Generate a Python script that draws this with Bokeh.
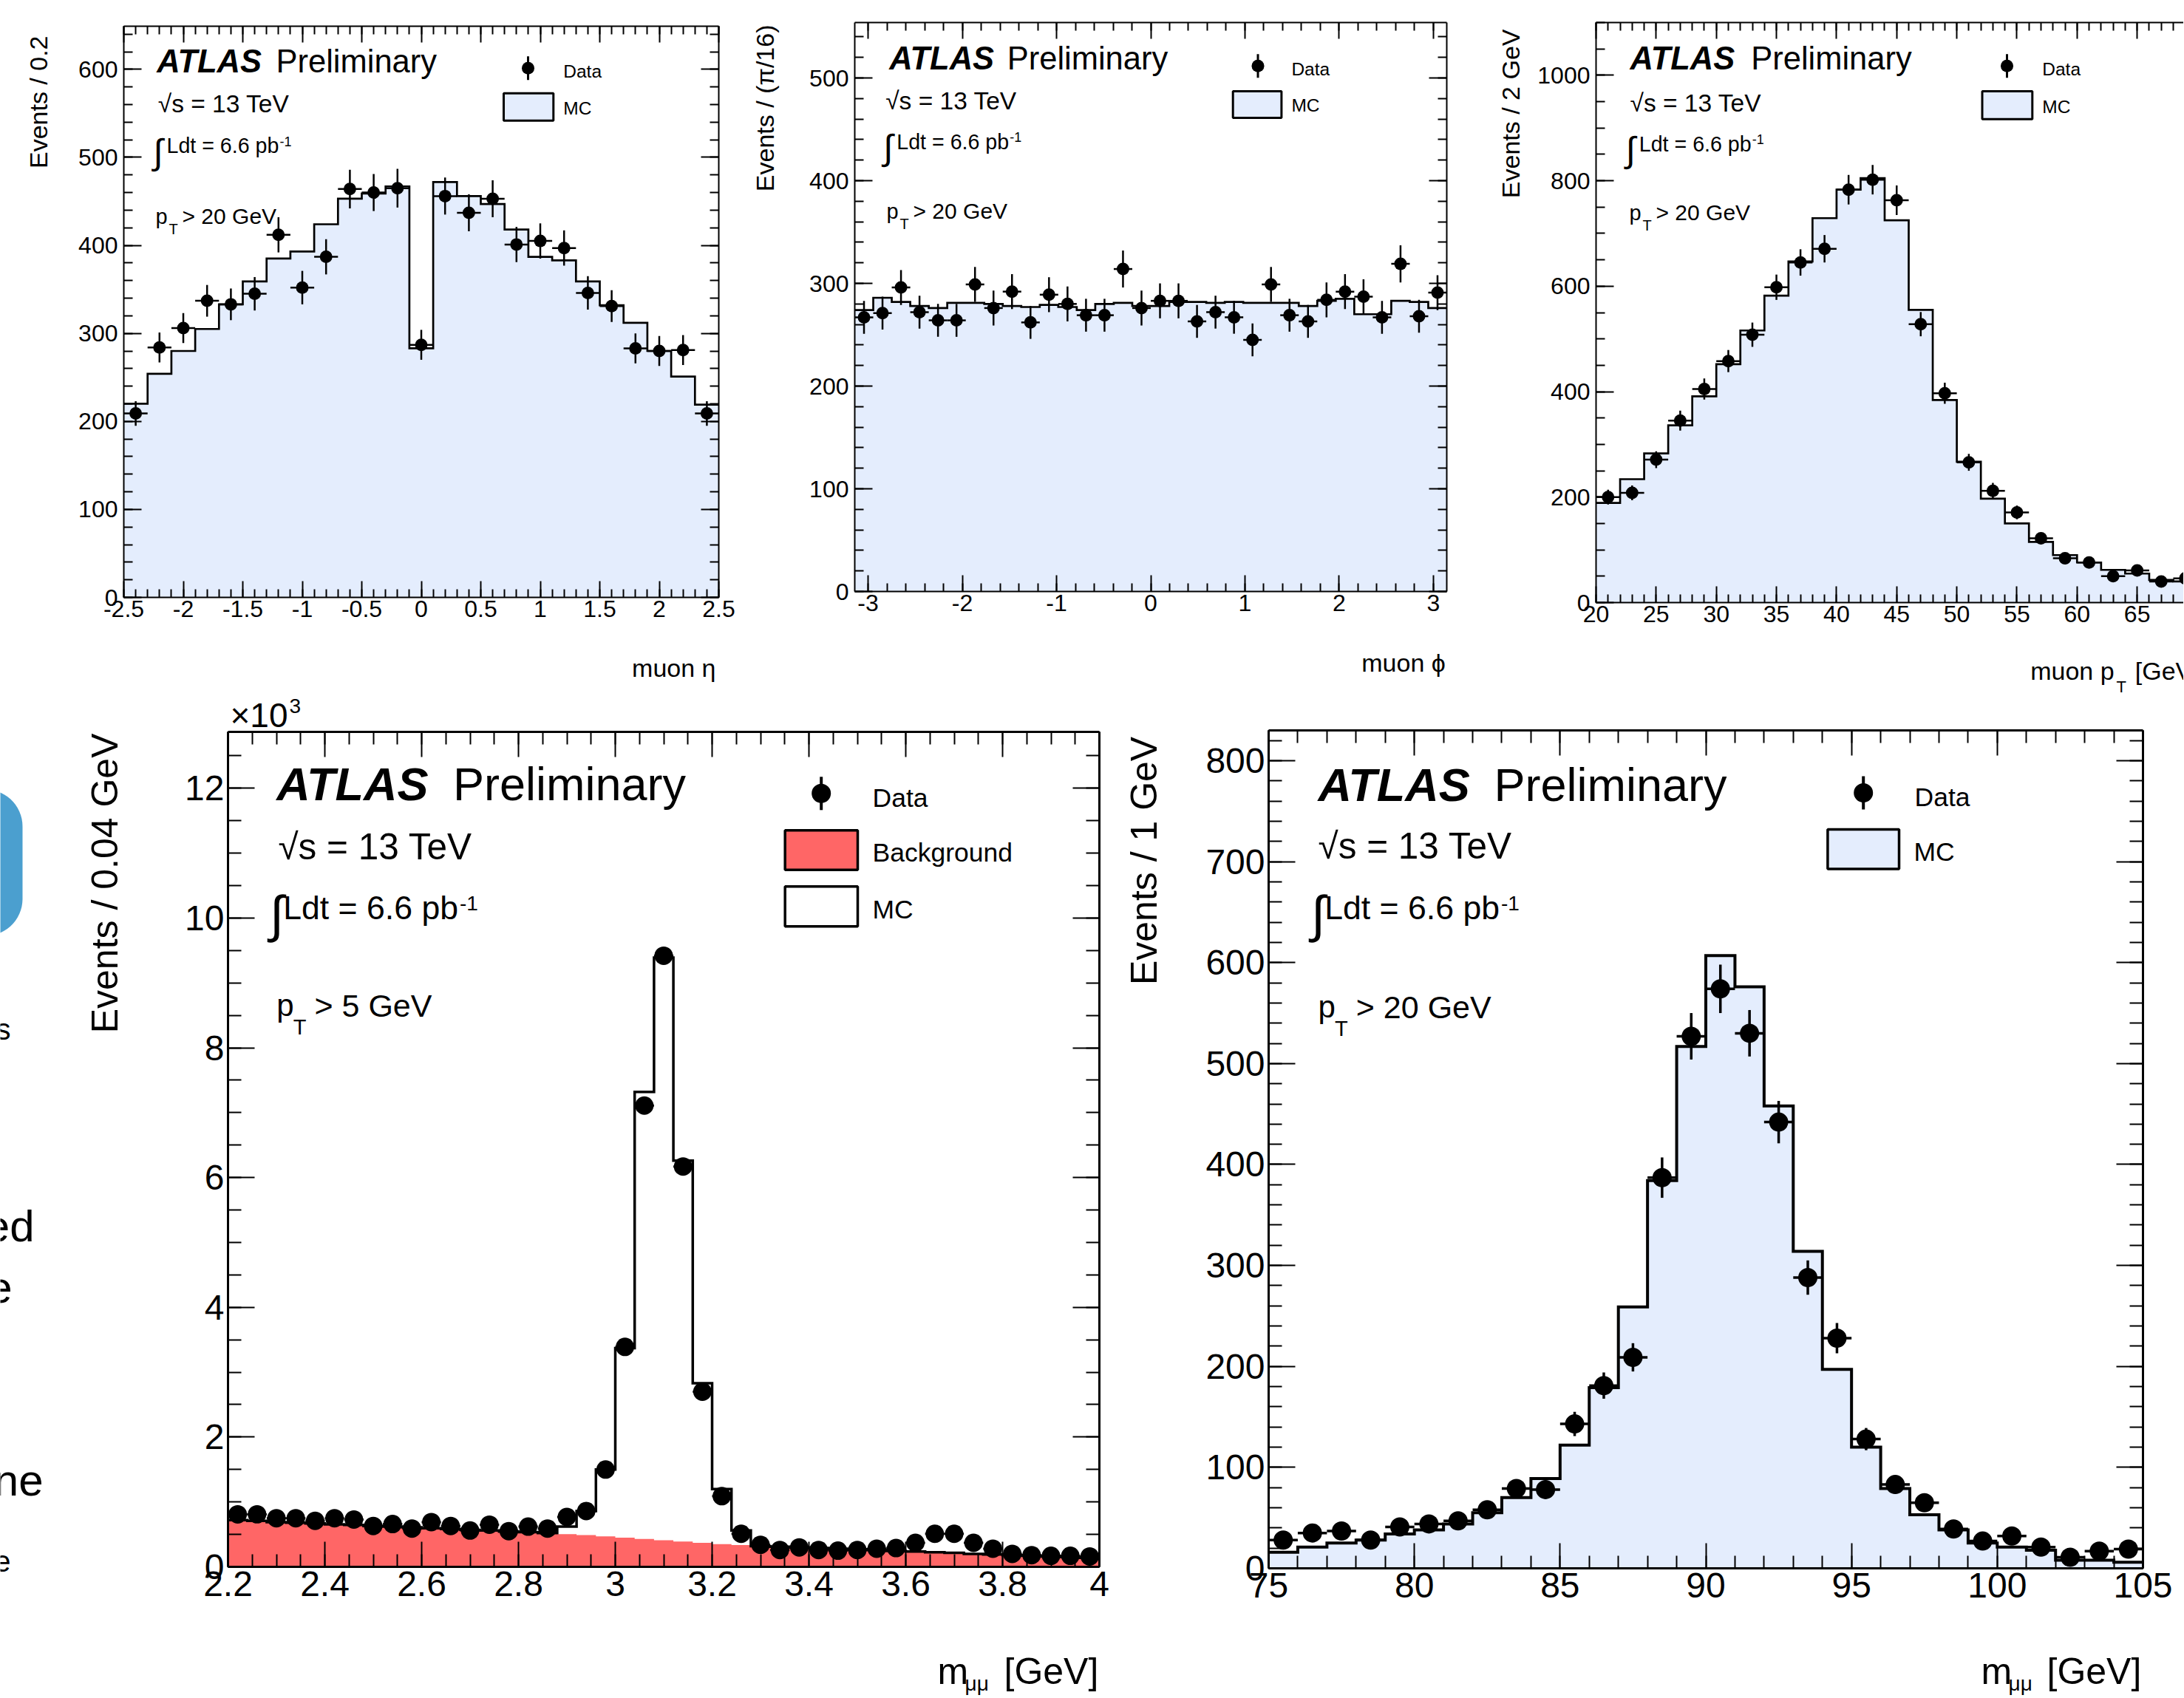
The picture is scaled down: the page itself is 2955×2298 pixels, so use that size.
import numpy as np
from bokeh.plotting import figure
from bokeh.models import Range1d, LinearAxis, FixedTicker, CustomJSTickFormatter, Label
from bokeh.layouts import row, column
from bokeh.embed import file_html
from bokeh.resources import INLINE
from bokeh.core.properties import value

FONT = "Liberation Sans"
MC_FILL = "#e4edfd"
BKG_FILL = "#ff6666"
SLIDE_BLUE = "#4b9fcf"
BASE_SHIFT = 0.34   # measured offset (in em) between the text anchor and the drawn baseline

# ---------------- data ----------------
# muon eta, 25 bins of 0.2
eta_edges = np.linspace(-2.5, 2.5, 26)
eta_data = [209, 284, 306, 337, 333, 345, 412, 352, 387, 464, 460, 465, 287,
            456, 437, 453, 401, 405, 397, 346, 331, 283, 280, 281, 209]
eta_err = [14, 17, 17, 18, 18, 19, 20, 19, 20, 22, 21, 22, 17,
           21, 21, 21, 20, 20, 20, 19, 18, 17, 17, 17, 14]
eta_mc = [220, 254, 280, 305, 333, 359, 385, 393, 424, 453, 459, 467, 283,
          472, 456, 447, 418, 387, 383, 359, 332, 312, 280, 251, 219]

# muon phi, 32 bins of pi/16
phi_edges = np.linspace(-np.pi, np.pi, 33)
phi_data = [267, 271, 296, 272, 264, 264, 299, 276, 292, 262, 289, 280, 269, 269, 314, 276,
            283, 283, 263, 272, 267, 245, 299, 269, 263, 284, 292, 287, 267, 319, 268, 291]
phi_err = [16, 16, 17, 16, 16, 16, 17, 17, 17, 16, 17, 17, 16, 16, 18, 17,
           17, 17, 16, 16, 16, 16, 17, 16, 16, 17, 17, 17, 16, 18, 16, 17]
phi_mc = [274, 286, 282, 278, 276, 281, 281, 280, 278, 277, 279, 277, 274, 280, 281, 278,
          278, 282, 282, 281, 282, 281, 281, 281, 278, 283, 285, 270, 270, 283, 282, 276]

# muon pT, bins of 2 GeV
pt_edges = np.arange(20, 72, 2)
pt_data = [200, 208, 271, 345, 405, 458, 508, 598, 645, 671, 783, 802, 763,
           528, 397, 266, 212, 171, 122, 84, 76, 50, 61, 40, 46]
pt_err = [14, 14, 16, 19, 20, 21, 23, 24, 25, 26, 28, 28, 28,
          23, 20, 16, 15, 13, 11, 9, 9, 7, 8, 6, 7]
pt_mc = [189, 234, 283, 336, 391, 452, 516, 582, 647, 729, 783, 805, 725,
         555, 384, 267, 197, 150, 115, 90, 76, 62, 55, 43, 40]

# J/psi mass, bins of 0.04 GeV
jpsi_edges = np.linspace(2.2, 4.0, 46)
jpsi_data = [810, 810, 750, 750, 710, 750, 730, 630, 660, 590, 690, 630, 560, 650, 550,
             620, 590, 770, 860, 1500, 3390, 7110, 9420, 6170, 2700, 1090, 510, 340, 260, 300,
             260, 250, 260, 280, 290, 370, 510, 510, 370, 280, 200, 180, 170, 170, 160]
jpsi_bkg = [720, 710, 690, 680, 670, 655, 645, 630, 620, 610, 595, 585, 570, 560, 545,
            535, 520, 505, 490, 470, 450, 430, 410, 390, 370, 350, 335, 320, 310, 300,
            290, 280, 270, 260, 245, 235, 225, 215, 200, 190, 180, 170, 160, 150, 140]
jpsi_mc = [720, 710, 690, 680, 670, 655, 645, 630, 620, 610, 595, 585, 570, 560, 545,
           535, 520, 620, 860, 1500, 3370, 7320, 9390, 6260, 2830, 1200, 560, 320, 310, 300,
           290, 280, 270, 260, 245, 235, 225, 215, 200, 190, 180, 170, 160, 150, 140]

# Z mass, bins of 1 GeV
z_edges = np.arange(75, 106, 1)
z_data = [28, 35, 37, 28, 41, 44, 47, 58, 79, 78, 143, 181, 209, 387, 527,
          574, 530, 442, 288, 228, 128, 83, 65, 39, 27, 32, 21, 11, 17, 19]
z_err = [5, 6, 6, 5, 6, 7, 7, 8, 9, 9, 12, 13, 14, 20, 23,
         24, 23, 21, 17, 15, 11, 9, 8, 6, 5, 6, 5, 3, 4, 4]
z_mc = [16, 21, 25, 28, 34, 38, 44, 55, 70, 89, 122, 179, 259, 384, 517,
        607, 576, 458, 314, 197, 120, 79, 53, 38, 25, 21, 18, 8, 8, 6]

# ---------------- helpers ----------------
fmt_gen = CustomJSTickFormatter(code="return String(Number(tick.toPrecision(6)));")
fmt_k = CustomJSTickFormatter(code="return String(Number((tick/1000).toPrecision(6)));")


def ticks(a, b, step):
    n = int(round((b - a) / step))
    return [float(np.round(a + i * step, 6)) for i in range(n + 1)]


def base_fig(ox, oy, w, h, frame, xr, yr):
    """Figure whose plot frame sits at page pixels frame=(L, R, T, B)."""
    L, R, T, B = frame
    p = figure(width=w, height=h, x_range=Range1d(*xr), y_range=Range1d(*yr),
               x_axis_type=None, y_axis_type=None, output_backend="svg",
               toolbar_location=None, tools="",
               min_border_left=L - ox, min_border_right=ox + w - R,
               min_border_top=T - oy, min_border_bottom=oy + h - B)
    p.outline_line_color = None
    p.background_fill_color = "white"
    p.border_fill_color = "white"
    # a page-pixel coordinate system for annotations inside the frame
    p.extra_x_ranges = {"px": Range1d(L, R)}
    p.extra_y_ranges = {"px": Range1d(B, T)}
    return p


def strip(ox, oy, w, h, frame_x=None):
    """Blank figure for texts outside the plot frames.
    Inside a column its frame is aligned with the panel's frame, so frame_x gives
    the page-pixel span of that frame."""
    xr = frame_x if frame_x is not None else (ox, ox + w)
    s = figure(width=w, height=h, x_range=Range1d(*xr), y_range=Range1d(oy + h, oy),
               x_axis_type=None, y_axis_type=None, output_backend="svg",
               toolbar_location=None, tools="", min_border_left=0, min_border_right=0,
               min_border_top=0, min_border_bottom=0)
    s.outline_line_color = None
    s.background_fill_color = "white"
    s.border_fill_color = "white"
    return s


def add_axes(p, xt, yt, xfmt, yfmt, lab_size, xmaj, xmin, ymaj, ymin, lw,
             sx, sy, sides=("below", "left", "above", "right")):
    for side in sides:
        horiz = side in ("below", "above")
        maj, mnr = (xt if horiz else yt)
        ax = LinearAxis(ticker=FixedTicker(ticks=maj, minor_ticks=mnr),
                        formatter=(xfmt if horiz else yfmt),
                        axis_line_width=lw, axis_line_color="black",
                        major_tick_in=(xmaj if horiz else ymaj), major_tick_out=0,
                        minor_tick_in=(xmin if horiz else ymin), minor_tick_out=0,
                        major_tick_line_width=2, minor_tick_line_width=2,
                        major_tick_line_color="black", minor_tick_line_color="black",
                        major_label_text_font=FONT,
                        major_label_text_color="black",
                        major_label_text_font_size=f"{lab_size}px",
                        major_label_standoff=(sx if horiz else sy))
        if side in ("above", "right"):
            # mirrored ticks only: no labels drawn
            ax.major_label_text_color = None
            ax.major_label_text_font_size = "1px"
            ax.major_label_standoff = 0
        p.add_layout(ax, side)


def hist_fill(p, edges, vals, color):
    xs = np.repeat(edges, 2)
    ys = np.concatenate([[0], np.repeat(np.asarray(vals, float), 2), [0]])
    p.patch(xs, ys, fill_color=color, line_color=None)


def hist_line(p, edges, vals, width):
    xs = np.repeat(edges, 2)[1:-1]
    ys = np.repeat(np.asarray(vals, float), 2)
    p.line(xs, ys, line_color="black", line_width=width, line_join="miter")


def data_pts(p, edges, vals, errs, size, lw):
    e = np.asarray(edges, float)
    c = (e[:-1] + e[1:]) / 2
    v = np.asarray(vals, float)
    p.segment(e[:-1], v, e[1:], v, line_color="black", line_width=lw)
    if errs is not None:
        er = np.asarray(errs, float)
        p.segment(c, v - er, c, v + er, line_color="black", line_width=lw)
    p.scatter(c, v, size=size, marker="circle", fill_color="black", line_color="black", line_width=0)


def txt(p, x, y, s, size, style="normal", align="left", angle=0.0, px=True):
    """Label whose baseline sits at page pixel (x, y)."""
    kw = dict(x_range_name="px", y_range_name="px") if px else {}
    if angle == 0.0:
        y = y - BASE_SHIFT * size
    else:
        x = x - BASE_SHIFT * size
    p.add_layout(Label(x=x, y=y, text=s, text_font=FONT, text_font_size=f"{size}px",
                       text_font_style=style, text_align=align, text_baseline="alphabetic",
                       angle=angle, text_color="black", **kw))


def gtxt(s, x, y, text, size, align="left"):
    """Text glyph with its baseline at page pixel (x, y), in a strip."""
    s.text(x=[x], y=[y - BASE_SHIFT * size], text=[text], text_align=align,
           text_baseline="alphabetic", text_font=value(FONT), text_font_size=f"{size}px",
           text_color="black")


def leg_data(p, x, y, half, size, lw):
    p.segment([x], [y - half], [x], [y + half], line_color="black", line_width=lw,
              x_range_name="px", y_range_name="px")
    p.scatter([x], [y], size=size, marker="circle", fill_color="black", line_color="black",
              line_width=0, x_range_name="px", y_range_name="px")


def leg_box(p, l, r, t, b, fill, lw):
    p.quad(left=[l], right=[r], top=[t], bottom=[b], fill_color=fill, line_color="black",
           line_width=lw, x_range_name="px", y_range_name="px")


def top_texts(p, ax, ay, prelim_x, sq, ldt, pt, leg):
    txt(p, ax, ay, "ATLAS", 43.5, "bold italic")
    txt(p, prelim_x, ay, "Preliminary", 43.5)
    txt(p, sq[0], sq[1], "\u221as = 13 TeV", 33.5)
    txt(p, ldt[0], ldt[1] + 15, "\u222b", 48)
    txt(p, ldt[0] + 18.3, ldt[1], "Ldt = 6.6 pb", 28.6)
    txt(p, ldt[0] + 171.3, ldt[1] - 9.5, "-1", 18)
    txt(p, pt[0], pt[1], "p", 29)
    txt(p, pt[0] + 18, pt[1] + 14, "T", 20)
    txt(p, pt[0] + 36, pt[1], "> 20 GeV", 30)
    mx, my, bl, br, bt, bb = leg
    leg_data(p, mx, my, 16, 17, 3)
    txt(p, br + 13.5, my + 12.6, "Data", 24.5)
    leg_box(p, bl, br, bt, bb, MC_FILL, 3)
    txt(p, br + 13.5, bb - 8.5, "MC", 24.5)


# ================= top row (page y 0 .. 940) =================
TOP_H, XSTRIP_H = 870, 70
LAB_T = 32

# panel 1: muon eta
F1 = (167, 972, 35, 808)
t1 = strip(0, 0, 95, TOP_H + XSTRIP_H)
txt(t1, 63, 48, "Events / 0.2", 34, align="right", angle=np.pi / 2, px=False)
p1 = base_fig(95, 0, 905, TOP_H, F1, (-2.5, 2.5), (0, 649))
add_axes(p1, (ticks(-2.5, 2.5, 0.5), ticks(-2.5, 2.5, 0.1)), (ticks(0, 600, 100), ticks(0, 640, 20)),
         fmt_gen, fmt_gen, LAB_T, 22, 11, 24, 12, 2, 4, 8)
hist_fill(p1, eta_edges, eta_mc, MC_FILL)
hist_line(p1, eta_edges, eta_mc, 2.7)
data_pts(p1, eta_edges, eta_data, eta_err, 17, 2.5)
top_texts(p1, 211.7, 97.3, 373, (213.3, 151.7), (206.7, 206.7), (210, 302),
          (714, 91.7, 681, 748.3, 125.7, 162.7))
x1 = strip(95, TOP_H, 905, XSTRIP_H, frame_x=F1[:2])
gtxt(x1, 854.6, 915, "muon \u03b7", 34)

# panel 2: muon phi
F2 = (1156, 1957, 30, 800)
t2 = strip(1000, 0, 90, TOP_H + XSTRIP_H)
txt(t2, 1046, 33, "Events / (\u03c0/16)", 34, align="right", angle=np.pi / 2, px=False)
p2 = base_fig(1090, 0, 910, TOP_H, F2, (-np.pi, np.pi), (0, 554))
add_axes(p2, (ticks(-3, 3, 1), ticks(-3, 3, 0.2)), (ticks(0, 500, 100), ticks(0, 540, 20)),
         fmt_gen, fmt_gen, LAB_T, 22, 11, 24, 12, 2, 4, 8)
hist_fill(p2, phi_edges, phi_mc, MC_FILL)
hist_line(p2, phi_edges, phi_mc, 2.7)
data_pts(p2, phi_edges, phi_data, phi_err, 17, 2.5)
top_texts(p2, 1202.8, 92.9, 1362.2, (1197.7, 146.9), (1194.5, 200.8), (1199, 295),
          (1701.5, 88.7, 1667.7, 1733.4, 122.9, 158.9))
x2 = strip(1090, TOP_H, 910, XSTRIP_H, frame_x=F2[:2])
gtxt(x2, 1841.8, 908, "muon \u03d5", 34)

# panel 3: muon pT (cut at the right edge of the window)
PX_PER_GEV = 16.27
P3_RIGHT = 2954
F3 = (2159, P3_RIGHT, 30, 815)
t3 = strip(2000, 0, 72, TOP_H + XSTRIP_H)
txt(t3, 2054.6, 39, "Events / 2 GeV", 34, align="right", angle=np.pi / 2, px=False)
p3 = base_fig(2072, 0, P3_RIGHT - 2072, TOP_H, F3,
              (20, 20 + (P3_RIGHT - 2159) / PX_PER_GEV), (0, 1100))
add_axes(p3, (ticks(20, 65, 5), ticks(20, 68, 1)), (ticks(0, 1000, 200), ticks(0, 1100, 50)),
         fmt_gen, fmt_gen, LAB_T, 22, 11, 24, 12, 2, 4, 8, sides=("below", "left", "above"))
hist_fill(p3, pt_edges, pt_mc, MC_FILL)
hist_line(p3, pt_edges, pt_mc, 2.7)
data_pts(p3, pt_edges, pt_data, pt_err, 17, 2.5)
top_texts(p3, 2205, 92.9, 2368.7, (2205, 149.9), (2199, 203.8), (2204, 297),
          (2715, 88.7, 2681.5, 2749.3, 122.9, 160.7))
x3 = strip(2072, TOP_H, P3_RIGHT - 2072, XSTRIP_H, frame_x=F3[:2])
gtxt(x3, 2746.7, 919, "muon p", 34)
gtxt(x3, 2863, 936, "T", 22)
gtxt(x3, 2888.3, 919, "[GeV]", 34)

# ================= bottom row (page y 940 .. 2296) =================
BOT_Y = 940
BOT_PANEL_END = 2210
BOT_END = 2296
LAB_B = 48


def bottom_texts(p, ax, ay, prelim_x, sq, ldt, pt, pt_text, leg, boxes):
    txt(p, ax, ay, "ATLAS", 63, "bold italic")
    txt(p, prelim_x, ay, "Preliminary", 63)
    txt(p, sq[0], sq[1], "\u221as = 13 TeV", 49.5)
    txt(p, ldt[0], ldt[1] + 17, "\u222b", 69)
    txt(p, ldt[0] + 18, ldt[1], "Ldt = 6.6 pb", 44.6)
    txt(p, ldt[0] + 256.7, ldt[1] - 11.3, "-1", 28)
    txt(p, pt[0], pt[1], "p", 42)
    txt(p, pt[0] + 22.5, pt[1] + 25, "T", 29)
    txt(p, pt[0] + 51.3, pt[1] + 1, pt_text, 43)
    mx, my = leg
    leg_data(p, mx, my, 22.5, 26, 4)
    txt(p, mx + 69.3, my + 18.4, "Data", 35.5)
    for (l, r, t, b, fill, name) in boxes:
        leg_box(p, l, r, t, b, fill, 3.5)
        txt(p, r + 20, b - 11, name, 35.5)


def mass_title(s, mx0, gev_x, mbase):
    gtxt(s, mx0, mbase, "m", 50)
    gtxt(s, mx0 + 37, mbase + 10, "\u03bc\u03bc", 28)
    gtxt(s, gev_x, mbase, "[GeV]", 50)


def rounded_right(x0, x1, y0, y1, r, n=16):
    a1 = np.linspace(-np.pi / 2, 0, n)
    a2 = np.linspace(0, np.pi / 2, n)
    xs = np.concatenate([[x0], x1 - r + r * np.cos(a1), x1 - r + r * np.cos(a2), [x0]])
    ys = np.concatenate([[y0], y0 + r + r * np.sin(a1), y1 - r + r * np.sin(a2), [y1]])
    return xs, ys


# left strip: slide fragments + y title of the J/psi panel
t4 = strip(0, BOT_Y, 240, BOT_END - BOT_Y)
bx, by = rounded_right(-200, 30, 1068, 1266, 50)
t4.patch(bx, by, fill_color=SLIDE_BLUE, line_color=None)
gtxt(t4, 46, 1679, "ed", 60, align="right")
gtxt(t4, 16, 1762, "e", 60, align="right")
gtxt(t4, 58, 2023, "ne", 60, align="right")
gtxt(t4, 14, 1406, "s", 40, align="right")
gtxt(t4, 14, 2126, "e", 40, align="right")
txt(t4, 158, 992, "Events / 0.04 GeV", 50, align="right", angle=np.pi / 2, px=False)

# panel 4: J/psi
F4 = (308, 1487, 990, 2120)
s4 = strip(240, BOT_Y, 1270, 45, frame_x=F4[:2])
gtxt(s4, 311, 983, "\u00d710", 46)
gtxt(s4, 391, 965, "3", 28)
p4 = base_fig(240, 985, 1270, BOT_PANEL_END - 985, F4, (2.2, 4.0), (0, 12870))
add_axes(p4, (ticks(2.2, 4.0, 0.2), ticks(2.2, 4.0, 0.05)), (ticks(0, 12000, 2000), ticks(0, 12500, 500)),
         fmt_gen, fmt_k, LAB_B, 34, 17, 36, 18, 3, 6, 5)
hist_fill(p4, jpsi_edges, jpsi_bkg, BKG_FILL)
hist_line(p4, jpsi_edges, jpsi_mc, 3.5)
data_pts(p4, jpsi_edges, jpsi_data, None, 25, 3)
bottom_texts(p4, 373.7, 1081.7, 612.5, (375.9, 1161.7), (364.7, 1243.3), (373.7, 1374), "> 5 GeV",
             (1110.7, 1073.3),
             [(1061.7, 1160, 1123.3, 1176.7, BKG_FILL, "Background"),
              (1061.7, 1160, 1199.3, 1253.3, "white", "MC")])
x4 = strip(240, BOT_PANEL_END, 1270, BOT_END - BOT_PANEL_END, frame_x=F4[:2])
mass_title(x4, 1268, 1358, 2278)

# panel 5: Z
F5 = (1716, 2899, 988, 2122)
t5 = strip(1510, BOT_Y, 112, BOT_END - BOT_Y)
txt(t5, 1564.7, 996.3, "Events / 1 GeV", 50, align="right", angle=np.pi / 2, px=False)
P5_W = 2954 - 1622
p5 = base_fig(1622, BOT_Y, P5_W, BOT_PANEL_END - BOT_Y, F5, (75, 105), (0, 830))
add_axes(p5, (ticks(75, 105, 5), ticks(75, 105, 1)), (ticks(0, 800, 100), ticks(0, 820, 20)),
         fmt_gen, fmt_gen, LAB_B, 34, 17, 36, 18, 3, 6, 5)
hist_fill(p5, z_edges, z_mc, MC_FILL)
hist_line(p5, z_edges, z_mc, 4)
data_pts(p5, z_edges, z_data, z_err, 26, 3.5)
bottom_texts(p5, 1783, 1083, 2021, (1783, 1161), (1773.7, 1243), (1783, 1376), "> 20 GeV",
             (2520.7, 1072.5),
             [(2472.4, 2569, 1121.9, 1175.6, MC_FILL, "MC")])
x5 = strip(1622, BOT_PANEL_END, P5_W, BOT_END - BOT_PANEL_END, frame_x=F5[:2])
mass_title(x5, 2680, 2769, 2278)

layout = column(
    row(t1, column(p1, x1), t2, column(p2, x2), t3, column(p3, x3)),
    row(t4, column(s4, p4, x4), t5, column(p5, x5)),
)
open("out.html", "w").write(file_html(layout, INLINE, title="ATLAS muon performance"))
